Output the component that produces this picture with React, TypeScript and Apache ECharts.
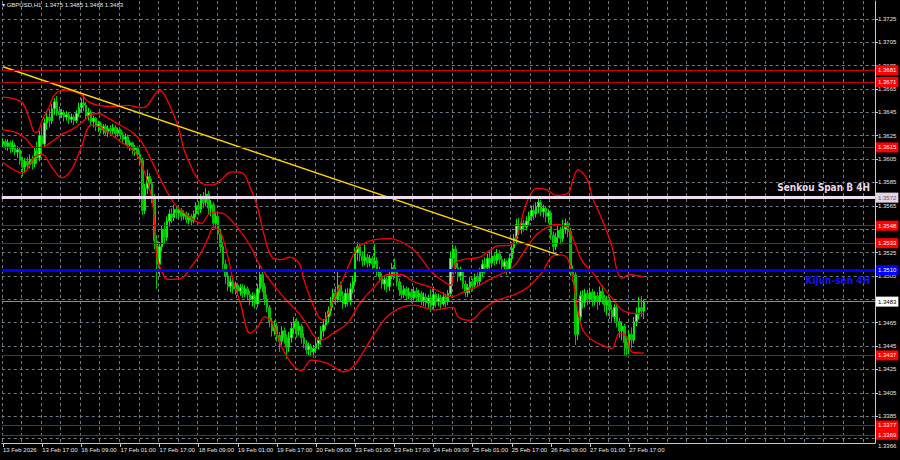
import React, { useEffect, useRef } from "react";
import * as echarts from "echarts";

const SYMBOL = "GBPUSD,H1";
const MONTHS = ["Jan", "Feb", "Mar", "Apr", "May", "Jun", "Jul", "Aug", "Sep", "Oct", "Nov", "Dec"];
const FIRST_BAR_UTC = Date.UTC(2026, 1, 13, 1);
const SLOT_COUNT = 357;

// [open, close, low, high], hourly bars from 13 Feb 2026 01:00
const ohlc: number[][] = [
  [1.3618,1.3620,1.3615,1.3623],[1.3620,1.3616,1.3613,1.3622],[1.3616,1.3619,1.3612,1.3622],[1.3619,1.3614,1.3610,1.3621],
  [1.3614,1.3617,1.3611,1.3621],[1.3617,1.3611,1.3608,1.3619],[1.3611,1.3613,1.3606,1.3616],[1.3613,1.3604,1.3600,1.3615],
  [1.3604,1.3598,1.3590,1.3607],[1.3598,1.3603,1.3594,1.3606],[1.3603,1.3600,1.3596,1.3607],[1.3600,1.3605,1.3597,1.3609],
  [1.3605,1.3601,1.3596,1.3608],[1.3601,1.3612,1.3598,1.3615],[1.3612,1.3606,1.3601,1.3620],[1.3606,1.3625,1.3603,1.3629],
  [1.3625,1.3618,1.3612,1.3634],[1.3618,1.3636,1.3615,1.3640],[1.3636,1.3641,1.3630,1.3646],[1.3641,1.3638,1.3632,1.3648],
  [1.3638,1.3648,1.3635,1.3652],[1.3648,1.3654,1.3643,1.3657],[1.3654,1.3646,1.3642,1.3659],[1.3646,1.3643,1.3638,1.3650],
  [1.3643,1.3645,1.3640,1.3648],[1.3645,1.3641,1.3637,1.3647],[1.3641,1.3643,1.3638,1.3646],[1.3643,1.3639,1.3635,1.3645],
  [1.3639,1.3641,1.3636,1.3644],[1.3641,1.3638,1.3634,1.3643],[1.3638,1.3644,1.3636,1.3647],[1.3644,1.3649,1.3641,1.3653],
  [1.3649,1.3653,1.3645,1.3657],[1.3653,1.3651,1.3646,1.3660],[1.3651,1.3642,1.3639,1.3654],[1.3642,1.3645,1.3638,1.3649],
  [1.3645,1.3637,1.3633,1.3647],[1.3637,1.3640,1.3632,1.3642],[1.3640,1.3633,1.3629,1.3641],[1.3633,1.3635,1.3628,1.3638],
  [1.3635,1.3630,1.3627,1.3637],[1.3630,1.3633,1.3626,1.3635],[1.3633,1.3628,1.3625,1.3635],[1.3628,1.3631,1.3624,1.3634],
  [1.3631,1.3629,1.3625,1.3634],[1.3629,1.3632,1.3626,1.3635],[1.3632,1.3627,1.3623,1.3634],[1.3627,1.3630,1.3624,1.3632],
  [1.3630,1.3626,1.3622,1.3631],[1.3626,1.3622,1.3618,1.3628],[1.3622,1.3624,1.3617,1.3627],[1.3624,1.3617,1.3614,1.3626],
  [1.3617,1.3619,1.3612,1.3621],[1.3619,1.3613,1.3609,1.3620],[1.3613,1.3615,1.3608,1.3617],[1.3615,1.3609,1.3605,1.3616],
  [1.3609,1.3604,1.3600,1.3612],[1.3604,1.3561,1.3557,1.3606],[1.3561,1.3580,1.3558,1.3584],[1.3580,1.3590,1.3575,1.3596],
  [1.3590,1.3584,1.3578,1.3593],[1.3584,1.3572,1.3567,1.3588],[1.3572,1.3535,1.3528,1.3575],[1.3535,1.3515,1.3494,1.3540],
  [1.3515,1.3530,1.3505,1.3534],[1.3530,1.3545,1.3526,1.3548],[1.3545,1.3538,1.3533,1.3551],[1.3538,1.3552,1.3535,1.3556],
  [1.3552,1.3558,1.3547,1.3562],[1.3558,1.3555,1.3550,1.3563],[1.3555,1.3562,1.3552,1.3566],[1.3562,1.3559,1.3554,1.3565],
  [1.3559,1.3561,1.3555,1.3564],[1.3561,1.3556,1.3552,1.3563],[1.3556,1.3558,1.3553,1.3561],[1.3558,1.3553,1.3550,1.3560],
  [1.3553,1.3556,1.3549,1.3559],[1.3556,1.3552,1.3548,1.3558],[1.3552,1.3558,1.3550,1.3561],[1.3558,1.3565,1.3555,1.3568],
  [1.3565,1.3562,1.3557,1.3569],[1.3562,1.3571,1.3559,1.3575],[1.3571,1.3568,1.3563,1.3577],[1.3568,1.3575,1.3565,1.3580],
  [1.3575,1.3563,1.3558,1.3578],[1.3563,1.3566,1.3556,1.3570],[1.3566,1.3550,1.3546,1.3568],[1.3550,1.3556,1.3545,1.3560],
  [1.3556,1.3541,1.3536,1.3558],[1.3541,1.3530,1.3525,1.3545],[1.3530,1.3515,1.3509,1.3534],[1.3515,1.3505,1.3498,1.3519],
  [1.3505,1.3496,1.3492,1.3509],[1.3496,1.3500,1.3491,1.3504],[1.3500,1.3494,1.3490,1.3503],[1.3494,1.3497,1.3489,1.3500],
  [1.3497,1.3492,1.3488,1.3499],[1.3492,1.3495,1.3488,1.3498],[1.3495,1.3490,1.3486,1.3498],[1.3490,1.3494,1.3487,1.3497],
  [1.3494,1.3489,1.3484,1.3496],[1.3489,1.3485,1.3480,1.3492],[1.3485,1.3488,1.3479,1.3491],[1.3488,1.3481,1.3477,1.3490],
  [1.3481,1.3494,1.3478,1.3498],[1.3494,1.3506,1.3490,1.3514],[1.3506,1.3496,1.3491,1.3510],[1.3496,1.3485,1.3480,1.3499],
  [1.3485,1.3478,1.3474,1.3489],[1.3478,1.3466,1.3461,1.3480],[1.3466,1.3458,1.3453,1.3469],[1.3458,1.3462,1.3454,1.3467],
  [1.3462,1.3454,1.3449,1.3465],[1.3454,1.3449,1.3440,1.3457],[1.3449,1.3458,1.3444,1.3462],[1.3458,1.3452,1.3447,1.3461],
  [1.3452,1.3444,1.3434,1.3455],[1.3444,1.3452,1.3440,1.3457],[1.3452,1.3460,1.3448,1.3465],[1.3460,1.3466,1.3455,1.3470],
  [1.3466,1.3458,1.3452,1.3469],[1.3458,1.3462,1.3454,1.3466],[1.3462,1.3452,1.3447,1.3464],[1.3452,1.3447,1.3443,1.3456],
  [1.3447,1.3442,1.3438,1.3450],[1.3442,1.3445,1.3437,1.3448],[1.3445,1.3440,1.3436,1.3447],[1.3440,1.3443,1.3435,1.3446],
  [1.3443,1.3447,1.3439,1.3451],[1.3447,1.3450,1.3442,1.3453],[1.3450,1.3458,1.3446,1.3462],[1.3458,1.3463,1.3453,1.3468],
  [1.3463,1.3470,1.3459,1.3474],[1.3470,1.3475,1.3465,1.3479],[1.3475,1.3483,1.3471,1.3487],[1.3483,1.3490,1.3478,1.3494],
  [1.3490,1.3485,1.3480,1.3496],[1.3485,1.3497,1.3482,1.3511],[1.3497,1.3488,1.3483,1.3500],[1.3488,1.3481,1.3477,1.3492],
  [1.3481,1.3490,1.3478,1.3494],[1.3490,1.3484,1.3479,1.3495],[1.3484,1.3494,1.3480,1.3499],[1.3494,1.3500,1.3490,1.3505],
  [1.3500,1.3525,1.3497,1.3529],[1.3525,1.3530,1.3518,1.3534],[1.3530,1.3522,1.3517,1.3533],[1.3522,1.3518,1.3513,1.3526],
  [1.3518,1.3521,1.3514,1.3532],[1.3521,1.3516,1.3512,1.3524],[1.3516,1.3520,1.3513,1.3523],[1.3520,1.3515,1.3511,1.3522],
  [1.3515,1.3518,1.3512,1.3532],[1.3518,1.3510,1.3505,1.3521],[1.3510,1.3504,1.3500,1.3513],[1.3504,1.3498,1.3494,1.3507],
  [1.3498,1.3502,1.3493,1.3505],[1.3502,1.3496,1.3491,1.3504],[1.3496,1.3505,1.3492,1.3509],[1.3505,1.3512,1.3502,1.3516],
  [1.3512,1.3508,1.3503,1.3520],[1.3508,1.3500,1.3496,1.3511],[1.3500,1.3493,1.3488,1.3503],[1.3493,1.3489,1.3485,1.3497],
  [1.3489,1.3494,1.3486,1.3497],[1.3494,1.3488,1.3484,1.3496],[1.3488,1.3491,1.3485,1.3495],[1.3491,1.3486,1.3482,1.3494],
  [1.3486,1.3492,1.3484,1.3496],[1.3492,1.3487,1.3483,1.3495],[1.3487,1.3490,1.3483,1.3493],[1.3490,1.3484,1.3480,1.3492],
  [1.3484,1.3487,1.3479,1.3491],[1.3487,1.3482,1.3478,1.3490],[1.3482,1.3486,1.3477,1.3489],[1.3486,1.3480,1.3474,1.3494],
  [1.3480,1.3489,1.3476,1.3496],[1.3489,1.3483,1.3478,1.3491],[1.3483,1.3486,1.3479,1.3490],[1.3486,1.3481,1.3477,1.3489],
  [1.3481,1.3487,1.3479,1.3491],[1.3487,1.3483,1.3478,1.3490],[1.3483,1.3490,1.3480,1.3493],[1.3490,1.3520,1.3487,1.3526],
  [1.3520,1.3528,1.3514,1.3532],[1.3528,1.3512,1.3507,1.3531],[1.3512,1.3505,1.3500,1.3516],[1.3505,1.3509,1.3501,1.3513],
  [1.3509,1.3498,1.3494,1.3511],[1.3498,1.3491,1.3487,1.3501],[1.3491,1.3495,1.3487,1.3498],[1.3495,1.3500,1.3490,1.3504],
  [1.3500,1.3497,1.3492,1.3503],[1.3497,1.3504,1.3494,1.3507],[1.3504,1.3500,1.3496,1.3508],[1.3500,1.3508,1.3497,1.3512],
  [1.3508,1.3515,1.3504,1.3519],[1.3515,1.3512,1.3507,1.3521],[1.3512,1.3520,1.3509,1.3524],[1.3520,1.3516,1.3511,1.3526],
  [1.3516,1.3522,1.3513,1.3527],[1.3522,1.3518,1.3514,1.3525],[1.3518,1.3524,1.3515,1.3528],[1.3524,1.3519,1.3515,1.3527],
  [1.3519,1.3513,1.3508,1.3522],[1.3513,1.3517,1.3508,1.3520],[1.3517,1.3511,1.3506,1.3519],[1.3511,1.3520,1.3507,1.3524],
  [1.3520,1.3529,1.3516,1.3534],[1.3529,1.3537,1.3524,1.3541],[1.3537,1.3549,1.3533,1.3554],[1.3549,1.3545,1.3540,1.3555],
  [1.3545,1.3550,1.3541,1.3554],[1.3550,1.3547,1.3543,1.3553],[1.3547,1.3552,1.3544,1.3556],[1.3552,1.3556,1.3548,1.3560],
  [1.3556,1.3561,1.3552,1.3565],[1.3561,1.3558,1.3553,1.3566],[1.3558,1.3564,1.3555,1.3568],[1.3564,1.3568,1.3559,1.3572],
  [1.3568,1.3560,1.3556,1.3570],[1.3560,1.3563,1.3555,1.3566],[1.3563,1.3556,1.3551,1.3565],[1.3556,1.3559,1.3550,1.3562],
  [1.3559,1.3540,1.3536,1.3561],[1.3540,1.3530,1.3525,1.3543],[1.3530,1.3538,1.3527,1.3542],[1.3538,1.3544,1.3533,1.3548],
  [1.3544,1.3537,1.3532,1.3547],[1.3537,1.3545,1.3534,1.3553],[1.3545,1.3550,1.3541,1.3554],[1.3550,1.3543,1.3538,1.3552],
  [1.3543,1.3510,1.3505,1.3546],[1.3510,1.3506,1.3500,1.3514],[1.3506,1.3455,1.3446,1.3509],[1.3455,1.3470,1.3450,1.3475],
  [1.3470,1.3488,1.3466,1.3492],[1.3488,1.3482,1.3477,1.3493],[1.3482,1.3490,1.3478,1.3494],[1.3490,1.3485,1.3480,1.3493],
  [1.3485,1.3491,1.3481,1.3495],[1.3491,1.3484,1.3479,1.3494],[1.3484,1.3488,1.3480,1.3492],[1.3488,1.3483,1.3476,1.3491],
  [1.3483,1.3492,1.3480,1.3496],[1.3492,1.3486,1.3481,1.3497],[1.3486,1.3480,1.3474,1.3489],[1.3480,1.3484,1.3471,1.3488],
  [1.3484,1.3476,1.3468,1.3487],[1.3476,1.3470,1.3465,1.3480],[1.3470,1.3478,1.3466,1.3481],[1.3478,1.3466,1.3461,1.3480],
  [1.3466,1.3458,1.3452,1.3469],[1.3458,1.3462,1.3450,1.3466],[1.3462,1.3448,1.3437,1.3464],[1.3448,1.3443,1.3436,1.3452],
  [1.3443,1.3455,1.3438,1.3459],[1.3455,1.3450,1.3443,1.3461],[1.3450,1.3466,1.3447,1.3470],[1.3466,1.3472,1.3462,1.3478],
  [1.3472,1.3478,1.3468,1.3487],[1.3478,1.3475,1.3470,1.3488],[1.3475,1.3483,1.3468,1.3485],
];

// Bollinger bands, [bar index, price]
const upperBand: number[][] = [
  [0,1.3658],[4,1.3657],[8,1.3653],[11,1.3638],[13,1.3628],[14,1.3628],[16,1.3638],[19,1.3650],[21,1.3660],
  [25,1.3664],[29,1.3663],[32,1.3660],[35,1.3654],[39,1.3651],[46,1.3650],[51,1.3651],[57,1.3649],[59,1.3651],
  [62,1.3660],[64,1.3664],[66,1.3660],[69,1.3647],[72,1.3630],[74,1.3613],[77,1.3598],[80,1.3587],[83,1.3583],
  [86,1.3583],[89,1.3587],[92,1.3593],[94,1.3594],[98,1.3593],[101,1.3581],[104,1.3564],[107,1.3538],[110,1.3521],
  [114,1.3519],[117,1.3521],[121,1.3516],[123,1.3502],[126,1.3484],[129,1.3470],[131,1.3467],[135,1.3484],
  [139,1.3502],[145,1.3529],[152,1.3536],[158,1.3537],[164,1.3533],[169,1.3525],[175,1.3509],[179,1.3502],
  [183,1.3497],[185,1.3516],[188,1.3519],[195,1.3521],[199,1.3527],[203,1.3531],[207,1.3531],[210,1.3538],
  [213,1.3561],[215,1.3572],[218,1.3580],[222,1.3579],[226,1.3574],[231,1.3576],[233,1.3587],[235,1.3596],
  [239,1.3587],[241,1.3572],[245,1.3553],[249,1.3530],[251,1.3510],[253,1.3503],[256,1.3506],[262,1.3504],
];
const middleBand: number[][] = [
  [0,1.3630],[5,1.3628],[9,1.3623],[13,1.3615],[16,1.3615],[20,1.3620],[24,1.3626],[28,1.3630],[32,1.3636],
  [36,1.3643],[39,1.3644],[43,1.3640],[48,1.3634],[54,1.3626],[58,1.3615],[62,1.3598],[66,1.3581],[70,1.3567],
  [74,1.3559],[78,1.3553],[81,1.3550],[85,1.3559],[89,1.3559],[94,1.3551],[101,1.3531],[105,1.3514],[111,1.3496],
  [116,1.3484],[121,1.3473],[125,1.3461],[127,1.3454],[130,1.3450],[135,1.3456],[141,1.3465],[146,1.3482],
  [152,1.3496],[157,1.3506],[163,1.3506],[168,1.3500],[174,1.3496],[179,1.3491],[183,1.3487],[188,1.3491],
  [194,1.3496],[199,1.3502],[203,1.3506],[207,1.3510],[210,1.3516],[214,1.3529],[218,1.3540],[222,1.3546],
  [226,1.3549],[231,1.3546],[233,1.3537],[237,1.3517],[241,1.3508],[245,1.3496],[249,1.3486],[253,1.3476],
  [258,1.3473],[262,1.3473],
];
const lowerBand: number[][] = [
  [0,1.3602],[8,1.3593],[13,1.3607],[16,1.3609],[20,1.3598],[24,1.3589],[28,1.3596],[32,1.3615],[36,1.3634],
  [40,1.3632],[48,1.3620],[54,1.3611],[58,1.3593],[61,1.3570],[62,1.3549],[63,1.3521],[66,1.3504],[68,1.3502],
  [73,1.3503],[77,1.3513],[81,1.3525],[84,1.3538],[86,1.3547],[89,1.3542],[92,1.3521],[94,1.3502],[97,1.3482],
  [101,1.3456],[104,1.3461],[107,1.3470],[110,1.3465],[114,1.3444],[118,1.3430],[122,1.3424],[126,1.3433],
  [133,1.3430],[139,1.3423],[143,1.3427],[147,1.3439],[152,1.3456],[157,1.3470],[163,1.3478],[168,1.3480],
  [176,1.3476],[184,1.3478],[186,1.3470],[191,1.3467],[196,1.3476],[202,1.3484],[209,1.3489],[215,1.3496],
  [221,1.3510],[224,1.3521],[228,1.3523],[231,1.3519],[233,1.3502],[235,1.3476],[237,1.3459],[241,1.3450],
  [247,1.3444],[249,1.3443],[252,1.3456],[255,1.3453],[257,1.3440],[262,1.3439],
];

const trendLine: number[][] = [[0, 1.3684], [227, 1.3523]];
const redLevels = [1.3681, 1.3671, 1.3615, 1.3548, 1.3533, 1.3437, 1.3377, 1.3369];
const senkouSpanB = 1.3572;
const kijunSen = 1.3510;
// grid lines of the price scale
const priceGrid = [1.3366, 1.3385, 1.3405, 1.3425, 1.3445, 1.3465, 1.3485, 1.3505, 1.3525, 1.3545,
  1.3565, 1.3585, 1.3605, 1.3625, 1.3645, 1.3665, 1.3685, 1.3705, 1.3725];
// labels of the price scale that are not covered by the level boxes
const priceLabels = [1.3366, 1.3385, 1.3405, 1.3425, 1.3445, 1.3465, 1.3505, 1.3525,
  1.3565, 1.3585, 1.3605, 1.3625, 1.3645, 1.3665, 1.3685, 1.3705, 1.3725];
const Y_MIN = 1.3362;
const Y_MAX = 1.37403;

const FONT = '"Liberation Sans", Arial, sans-serif';
const NARROW = '"Liberation Sans Narrow", "DejaVu Sans Condensed", "Liberation Sans", Arial, sans-serif';

function buildTimes(n: number): string[] {
  const out: string[] = [];
  let t = FIRST_BAR_UTC;
  while (out.length < n) {
    const d = new Date(t);
    const wd = d.getUTCDay();
    if (wd !== 0 && wd !== 6) {
      const day = String(d.getUTCDate());
      const mon = MONTHS[d.getUTCMonth()];
      if (out.length === 0) out.push(`${day} ${mon} ${d.getUTCFullYear()}`);
      else out.push(`${day} ${mon} ${String(d.getUTCHours()).padStart(2, "0")}:00`);
    }
    t += 3600000;
  }
  return out;
}

export default function App() {
  const ref = useRef<HTMLDivElement>(null);
  useEffect(() => {
    if (!ref.current) return;
    const chart = echarts.init(ref.current, null, { renderer: "svg" });
    const times = buildTimes(ohlc.length);
    const categories = times.concat(
      Array.from({ length: SLOT_COUNT - times.length }, (_, k) => `f${k}`)
    );
    const last = ohlc[ohlc.length - 1];
    const lastClose = last[1];
    const labelEvery = (i: number) => i % 16 === 0 && i < times.length;

    const box = (bg: string, fg: string, v: number) => ({
      show: true,
      position: "end",
      distance: 1,
      formatter: v.toFixed(4),
      backgroundColor: bg,
      color: fg,
      fontSize: 6,
      lineHeight: 8,
      fontFamily: FONT,
      padding: [1, 2, 1, 2],
    });
    const hidden = { color: "rgba(0,0,0,0)", width: 0, type: "solid" };

    const levelData: any[] = [
      ...redLevels.map((v) => ({
        yAxis: v,
        lineStyle: { color: "#cc0000", width: 1, type: "solid" },
        label: box("#ff0000", "#ffffff", v),
      })),
      {
        yAxis: senkouSpanB,
        lineStyle: hidden,
        label: {
          show: true,
          position: "insideEndTop",
          distance: 5,
          formatter: "Senkou Span B 4H",
          color: "#e8d6e8",
          fontWeight: "bold",
          fontSize: 10,
          fontFamily: NARROW,
        },
      },
      {
        yAxis: senkouSpanB,
        lineStyle: { color: "#eedcee", width: 3, type: "solid" },
        label: box("#e4d4e4", "#606060", senkouSpanB),
      },
      {
        yAxis: kijunSen,
        lineStyle: hidden,
        label: {
          show: true,
          position: "insideEndBottom",
          distance: 5,
          formatter: "Kijun-sen 4H",
          color: "#1414ff",
          fontWeight: "bold",
          fontSize: 10,
          fontFamily: NARROW,
        },
      },
      {
        yAxis: kijunSen,
        lineStyle: { color: "#0000ff", width: 3, type: "solid" },
        label: box("#0000ff", "#ffffff", kijunSen),
      },
      {
        yAxis: lastClose,
        lineStyle: { color: "#8c8c8c", width: 1, type: "solid" },
        label: box("#ffffff", "#000000", lastClose),
      },
    ];

    const band = (data: number[][]) => ({
      type: "line",
      data,
      smooth: 0.35,
      symbol: "none",
      silent: true,
      lineStyle: { color: "#ff0000", width: 1.3 },
      z: 3,
    });

    const option: any = {
      animation: false,
      backgroundColor: "#000000",
      title: {
        text: `\u25BE ${SYMBOL}  ${last[0].toFixed(4)} ${last[3].toFixed(4)} ${last[2].toFixed(4)} ${last[1].toFixed(4)}`,
        left: 2,
        top: 2,
        padding: 0,
        textStyle: { color: "#e6e6e6", fontSize: 6, fontWeight: "normal", fontFamily: FONT },
      },
      grid: { left: 0, right: 25, top: 1, bottom: 17, containLabel: false },
      xAxis: {
        type: "category",
        data: categories,
        boundaryGap: true,
        axisLine: { show: true, lineStyle: { color: "#c8c8c8", width: 1 } },
        axisTick: {
          show: true,
          alignWithLabel: true,
          interval: labelEvery,
          length: 4,
          lineStyle: { color: "#c8c8c8" },
        },
        axisLabel: {
          interval: labelEvery,
          color: "#e6e6e6",
          fontSize: 6,
          fontFamily: FONT,
          align: "left",
          margin: 4,
        },
        splitLine: {
          show: true,
          interval: (i: number) => i % 8 === 0,
          lineStyle: { color: "#6e7a86", width: 1, type: [3, 3] },
        },
      },
      yAxis: {
        type: "value",
        position: "right",
        min: Y_MIN,
        max: Y_MAX,
        axisLine: { show: true, lineStyle: { color: "#c8c8c8", width: 1 } },
        axisTick: { show: true, length: 3, customValues: priceGrid, lineStyle: { color: "#c8c8c8" } },
        axisLabel: {
          customValues: priceLabels,
          color: "#e6e6e6",
          fontSize: 6,
          fontFamily: FONT,
          margin: 3,
          formatter: (v: number) => (v === priceLabels[0] ? `{b|${v.toFixed(4)}}` : v.toFixed(4)),
          rich: { b: { fontSize: 6, color: "#e6e6e6", fontFamily: FONT, padding: [15, 0, 0, 0] } },
        },
        splitLine: { show: true, lineStyle: { color: "#6e7a86", width: 1, type: [3, 3] } },
      },
      series: [
        {
          type: "candlestick",
          data: ohlc,
          barWidth: 2,
          silent: true,
          z: 2,
          itemStyle: {
            color: "#a6f2a6",
            color0: "#00b400",
            borderColor: "#00ee00",
            borderColor0: "#00c800",
            borderWidth: 1,
          },
        },
        band(upperBand),
        band(middleBand),
        band(lowerBand),
        {
          type: "line",
          data: trendLine,
          symbol: "none",
          silent: true,
          clip: false,
          z: 4,
          lineStyle: { color: "#ffd200", width: 1.5 },
          markLine: {
            silent: true,
            precision: 5,
            symbol: ["none", "none"],
            animation: false,
            data: levelData,
          },
        },
      ],
    };
    chart.setOption(option);
    return () => chart.dispose();
  }, []);
  return (
    <div
      ref={ref}
      style={{ position: "absolute", left: 0, top: 0, width: 900, height: 460, background: "#000" }}
    />
  );
}
